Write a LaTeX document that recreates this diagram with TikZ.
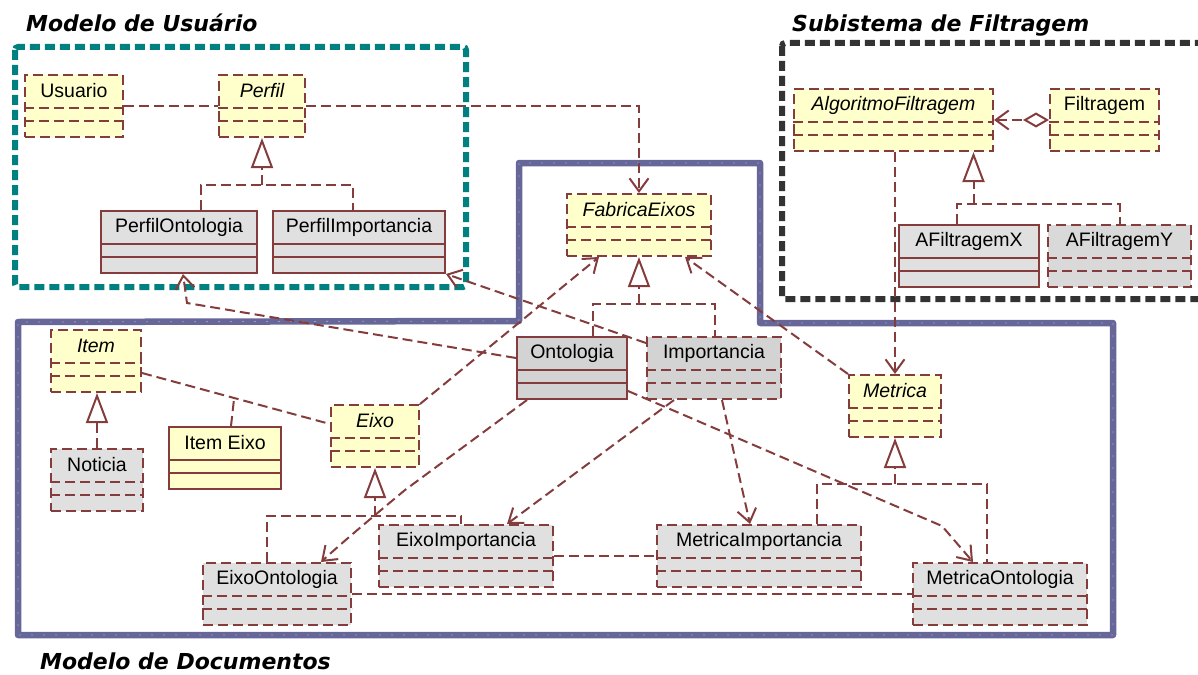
\documentclass[tikz,border=0pt]{standalone}
\usepackage{fontspec}
\setmainfont{Liberation Sans}
\newfontfamily\pkgfont{DejaVu Sans}
\usetikzlibrary{arrows.meta,calc}
\definecolor{umlline}{HTML}{843C3C}
\definecolor{classy}{HTML}{FFFFCC}
\definecolor{classg}{HTML}{E0E0E0}
\definecolor{classgm}{HTML}{D9D9D9}
\definecolor{classgd}{HTML}{D3D3D3}
\definecolor{pkgteal}{HTML}{008080}
\definecolor{pkgdark}{HTML}{333333}
\definecolor{pkgblue}{HTML}{666699}

\begin{document}
\begin{tikzpicture}[x=1pt,y=-1pt,font=\fontsize{19.5}{22}\selectfont,
  dsh/.style={dash pattern=on 10pt off 5pt},
  cls/.style={draw=umlline,line width=2pt,anchor=north west,inner sep=0pt,minimum height=62},
  ysol/.style={fill=classy,draw=umlline,line width=2pt},
  ydsh/.style={ysol,dsh},
  gsol/.style={fill=classg,draw=umlline,line width=2pt},
  gdsh/.style={gsol,dsh},
  gmdsh/.style={fill=classgm,draw=umlline,line width=2pt,dsh},
  gdsol/.style={fill=classgd,draw=umlline,line width=2pt},
  gddsh/.style={gdsol,dsh},
  dep/.style={draw=umlline,line width=2pt,dsh},
  depar/.style={dep,-{Straight Barb[length=13pt,width=19pt]}},
  realiz/.style={dep,-{Triangle[open,length=30pt,width=22pt]}},
  aggr/.style={dep,{Straight Barb[length=13pt,width=19pt]}-{Diamond[open,length=26pt,width=15pt]}},
  pkgtitle/.style={font=\pkgfont\fontsize{22}{26}\selectfont\bfseries\itshape,anchor=base west,inner sep=0pt}]
\useasboundingbox (0,0) rectangle (1198,674);
% packages
\draw[pkgteal,line width=6pt,dash pattern=on 10pt off 5pt,rounded corners=3pt] (15,47) rectangle (466,287);
\draw[pkgdark,line width=6pt,dash pattern=on 10pt off 5pt,rounded corners=3pt] (782,43) rectangle (1206,299);
\draw[pkgblue,line width=6.5pt,line join=round,line cap=round] (519,321) -- (519,163) -- (760,163) -- (760,323) -- (1113,323) -- (1113,635) -- (18,635) -- (18,322) -- cycle;
\draw[white!35!pkgblue,line width=0.8pt,dash pattern=on 2pt off 10pt] (519,321) -- (519,163) -- (760,163) -- (760,323) -- (1113,323) -- (1113,635) -- (18,635) -- (18,322) -- cycle;
\node[pkgtitle] (tUsuario) at (26,32) {Modelo de Usuário};
\node[pkgtitle] (tFiltragem) at (792,32) {Subistema de Filtragem};
\node[pkgtitle] (tDocumentos) at (40,669) {Modelo de Documentos};
% classes: name/x/y/width/style/text
\foreach \n/\x/\y/\w/\s/\t in {
  Usuario/24/74/98/ydsh/Usuario,
  Perfil/218/74/86/ydsh/{\itshape Perfil},
  PerfilOntologia/100/210/156/gsol/PerfilOntologia,
  PerfilImportancia/272/210/172/gsol/PerfilImportancia,
  FabricaEixos/566/193/144/ydsh/{\itshape FabricaEixos},
  AlgoritmoFiltragem/793/88/199/ydsh/{\itshape AlgoritmoFiltragem},
  Filtragem/1049/88/109/ydsh/Filtragem,
  AFiltragemX/898/224/140/gsol/AFiltragemX,
  AFiltragemY/1047/224/143/gmdsh/AFiltragemY,
  Item/50/329/90/ydsh/{\itshape Item},
  Noticia/50/448/92/gdsh/Noticia,
  ItemEixo/168/426/112/ysol/Item Eixo,
  Eixo/330/404/88/ydsh/{\itshape Eixo},
  Ontologia/516/336/110/gdsol/Ontologia,
  Importancia/646/336/134/gddsh/Importancia,
  Metrica/848/374/92/ydsh/{\itshape Metrica},
  EixoImportancia/378/524/174/gdsh/EixoImportancia,
  MetricaImportancia/656/524/204/gdsh/MetricaImportancia,
  EixoOntologia/202/562/148/gdsh/EixoOntologia,
  MetricaOntologia/912/562/174/gdsh/MetricaOntologia} {
  \node[cls,\s,minimum width=\w] (\n) at (\x,\y) {};
  \node[inner sep=0pt] (\n-t) at ($(\n.north)+(0,17)$) {\t};
  \draw[\s] ($(\n.north west)+(0,34)$) -- ($(\n.north east)+(0,34)$) ($(\n.north west)+(0,47)$) -- ($(\n.north east)+(0,47)$);
}
% user model
\draw[dep] (Usuario.east) -- (Perfil.west);
\draw[depar] (Perfil.east) -| (FabricaEixos.north);
\coordinate (pj) at ($(Perfil.south)+(0,47)$);
\draw[dep] ($(PerfilOntologia.north)+(22,0)$) |- (pj) -| ($(PerfilImportancia.north)+(-6,0)$);
\draw[realiz] (pj) -- (Perfil.south);
% filtering
\draw[aggr] (AlgoritmoFiltragem.east) -- (Filtragem.west);
\coordinate (aj) at ($(AlgoritmoFiltragem.south)+(80,52)$);
\draw[dep] ($(AFiltragemX.north)+(-12,0)$) |- (aj) -| (AFiltragemY.north);
\draw[realiz] (aj) -- (aj |- AlgoritmoFiltragem.south);
\draw[depar] (Metrica.north |- AlgoritmoFiltragem.south) -- (Metrica.north);
% documents
\draw[realiz] (Noticia.north) -- (Noticia.north |- Item.south);
\coordinate (ia) at ($(Item.north east)+(0,44)$);
\coordinate (ib) at ($(Eixo.north west)+(0,20)$);
\draw[dep] (ia) -- (ib);
\draw[dep] ($(ItemEixo.north)+(6,0)$) -- ($(ia)!0.49!(ib)$);
\coordinate (ej) at ($(Eixo.south)+(0,48)$);
\draw[dep] ($(EixoOntologia.north)+(-10,0)$) |- (ej) -| ($(EixoImportancia.north)+(-5,0)$);
\draw[realiz] (ej) -- (Eixo.south);
\coordinate (fj) at ($(FabricaEixos.south)+(0,47)$);
\draw[dep] ($(Ontologia.north)+(21,0)$) |- (fj) -| ($(Importancia.north)+(1,0)$);
\draw[realiz] (fj) -- (FabricaEixos.south);
\coordinate (mj) at ($(Metrica.south)+(0,46)$);
\draw[dep] ($(MetricaImportancia.north)+(58,0)$) |- (mj) -| ($(MetricaOntologia.north)+(-13,0)$);
\draw[realiz] (mj) -- (Metrica.south);
\draw[dep] (EixoImportancia.east) -- (MetricaImportancia.west);
\draw[dep] (EixoOntologia.east) -- (MetricaOntologia.west);
% dependencies
\draw[depar] (Eixo.north east) -- ($(FabricaEixos.south)+(-40,0)$);
\draw[depar] (Metrica.north west) -- ($(FabricaEixos.south)+(46,0)$);
\draw[depar] ($(Importancia.north west)+(0,7)$) -- (PerfilImportancia.south east);
\coordinate (ok) at (187,303);
\draw[depar] ($(Ontologia.north west)+(0,22)$) -- (ok) -- ($(PerfilOntologia.south)+(4,0)$);
\coordinate (oc) at (405,490);
\draw[depar] ($(Ontologia.south west)+(11,0)$) -- (oc) .. controls (375,515) and (345,540) .. ($(EixoOntologia.north)+(44,0)$);
\draw[depar] ($(Importancia.south)+(-40,0)$) -- ($(EixoImportancia.north)+(41,0)$);
\draw[depar] ($(Importancia.south)+(8,0)$) -- ($(MetricaImportancia.north)+(-9,0)$);
\coordinate (om) at (942,526);
\draw[depar] ($(Ontologia.south east)+(0,-9)$) -- (om) -- ($(MetricaOntologia.north)+(-27,0)$);
\end{tikzpicture}
\end{document}
